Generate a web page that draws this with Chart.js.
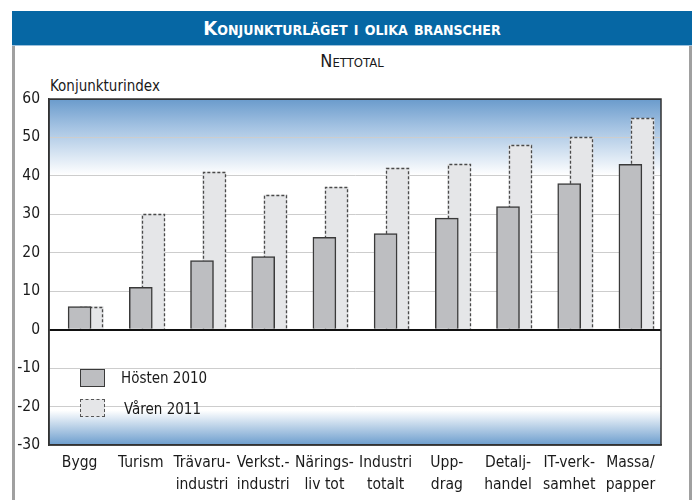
<!DOCTYPE html>
<html lang="sv">
<head>
<meta charset="utf-8">
<script src="https://cdn.jsdelivr.net/npm/chart.js@4"></script>
<style>
    body { margin: 0; background: #ffffff; }
    #wrap { position: relative; width: 694px; height: 500px; overflow: hidden; font-family: "DejaVu Sans Condensed", "Liberation Sans Narrow", sans-serif; color: #1a1a1a; }
    #ram { position: absolute; left: 12px; top: 11px; width: 674px; height: 500px; border-left: 3px solid #a0a0a0; border-right: 3px solid #a0a0a0; }
    #rubrik { position: absolute; left: 12px; top: 11px; width: 680px; height: 34px; background: #0667a4; color: #ffffff; text-align: center; font-weight: bold; font-size: 20px; line-height: 34px; font-variant: small-caps; font-family: "Liberation Sans Narrow", "DejaVu Sans Condensed", sans-serif; border-bottom: 1px solid #9cc0dc; }
    #underrubrik { position: absolute; left: 12px; width: 680px; top: 50px; text-align: center; font-size: 18px; font-variant: small-caps; }
    #axeltitel { position: absolute; left: 50px; top: 77px; font-size: 15px; }
    canvas { position: absolute; left: 0; top: 0; }
    .ruta { position: absolute; left: 80px; width: 23px; height: 16px; }
    .legtext { position: absolute; font-size: 15px; }
</style>
</head>
<body>
<div id="wrap">
    <div id="ram"></div>
    <div id="rubrik">Konjunkturläget i olika branscher</div>
    <div id="underrubrik">Nettotal</div>
    <div id="axeltitel">Konjunkturindex</div>
    <canvas id="graf" width="694" height="500"></canvas>
    <div class="ruta" style="top:369px; background:#bdbec1; border:1px solid #3a3a3a;"></div>
    <div class="legtext" id="leg1" style="left:121px; top:369px;"></div>
    <div class="ruta" style="top:399px; background:#e5e6e8; border:1px dashed #555555;"></div>
    <div class="legtext" id="leg2" style="left:124px; top:400px;"></div>
</div>
<script>
const branscher = [
    ["Bygg"], ["Turism"], ["Trävaru-", "industri"], ["Verkst.-", "industri"], ["Närings-", "liv tot"],
    ["Industri", "totalt"], ["Upp-", "drag"], ["Detalj-", "handel"], ["IT-verk-", "samhet"], ["Massa/", "papper"]
];
const hosten2010 = [6, 11, 18, 19, 24, 25, 29, 32, 38, 43];
const varen2011  = [6, 30, 41, 35, 37, 42, 43, 48, 50, 55];
const serieNamn  = ["Hösten 2010", "Våren 2011"];
const yTicks     = [-30, -20, -10, 0, 10, 20, 30, 40, 50, 60];

document.getElementById("leg1").textContent = serieNamn[0];
document.getElementById("leg2").textContent = serieNamn[1];

const forskjutning = 0.2; // våren-stapeln ligger lite till höger, bakom hösten
const typsnitt = "'DejaVu Sans Condensed', 'Liberation Sans Narrow', sans-serif";

const bakgrund = {
    id: "bakgrund",
    beforeDraw(chart) {
        const { ctx, chartArea: a } = chart;
        const g = ctx.createLinearGradient(0, a.top, 0, a.bottom);
        g.addColorStop(0, "#6a9bcc");
        g.addColorStop(0.08, "#a3c2e2");
        g.addColorStop(0.22, "#ffffff");
        g.addColorStop(0.9, "#ffffff");
        g.addColorStop(1, "#6c9dcd");
        ctx.save();
        ctx.fillStyle = g;
        ctx.fillRect(a.left, a.top, a.right - a.left, a.bottom - a.top);
        ctx.restore();
    },
    afterDatasetDraw(chart, args) {
        if (args.index !== 1) return;
        const ctx = chart.ctx;
        ctx.save();
        ctx.strokeStyle = "#4a4a4a";
        ctx.lineWidth = 1.3;
        ctx.setLineDash([3, 2]);
        args.meta.data.forEach(el => {
            const p = el.getProps(["x", "y", "base", "width"], true);
            const v = Math.round(p.x - p.width / 2) + 0.5;
            const h = Math.round(p.x + p.width / 2) - 0.5;
            const t = Math.round(p.y) + 0.5;
            ctx.beginPath();
            ctx.moveTo(v, p.base);
            ctx.lineTo(v, t);
            ctx.lineTo(h, t);
            ctx.lineTo(h, p.base);
            ctx.stroke();
        });
        ctx.restore();
    },
    afterDraw(chart) {
        const { ctx, chartArea: a } = chart;
        ctx.save();
        ctx.strokeStyle = "#333333";
        ctx.lineWidth = 1.5;
        ctx.strokeRect(a.left, a.top, a.right - a.left, a.bottom - a.top);
        ctx.restore();
    }
};

new Chart(document.getElementById("graf"), {
    type: "bar",
    data: {
        datasets: [
            {
                label: serieNamn[0],
                data: hosten2010.map((v, i) => ({ x: i, y: v })),
                backgroundColor: "#bdbec1",
                borderColor: "#3a3a3a",
                borderWidth: 1.5,
                borderSkipped: "start",
                barThickness: 23,
                grouped: false
            },
            {
                label: serieNamn[1],
                data: varen2011.map((v, i) => ({ x: i + forskjutning, y: v })),
                backgroundColor: "#e5e6e8",
                borderWidth: 0,
                barThickness: 23,
                grouped: false
            }
        ]
    },
    options: {
        responsive: false,
        animation: false,
        layout: { padding: { top: 99, right: 33, left: 0, bottom: 0 } },
        plugins: {
            legend: { display: false },
            tooltip: { enabled: false }
        },
        scales: {
            x: {
                type: "linear",
                offset: false,
                min: -0.5,
                max: branscher.length - 0.5,
                afterBuildTicks: s => { s.ticks = branscher.map((_, i) => ({ value: i })); },
                afterFit: s => { s.height = 55; },
                grid: { display: false, drawTicks: false, offset: false },
                border: { color: "#333333", width: 1.5 },
                ticks: {
                    autoSkip: false,
                    maxRotation: 0,
                    padding: 7,
                    color: "#1a1a1a",
                    font: { family: typsnitt, size: 15.5, lineHeight: 1.4 },
                    callback: v => branscher[v]
                }
            },
            y: {
                min: -30,
                max: 60,
                afterBuildTicks: s => { s.ticks = yTicks.map(v => ({ value: v })); },
                afterFit: s => { s.width = 49; },
                grid: {
                    drawTicks: false,
                    color: c => c.tick.value === 0 ? "#111111" : (c.tick.value === 60 ? "#333333" : "#cdcdcd"),
                    lineWidth: c => c.tick.value === 0 ? 2 : 1
                },
                border: { color: "#333333", width: 1.5 },
                ticks: {
                    padding: 9,
                    color: "#1a1a1a",
                    font: { family: typsnitt, size: 15.5 }
                }
            }
        }
    },
    plugins: [bakgrund]
});
</script>
</body>
</html>
